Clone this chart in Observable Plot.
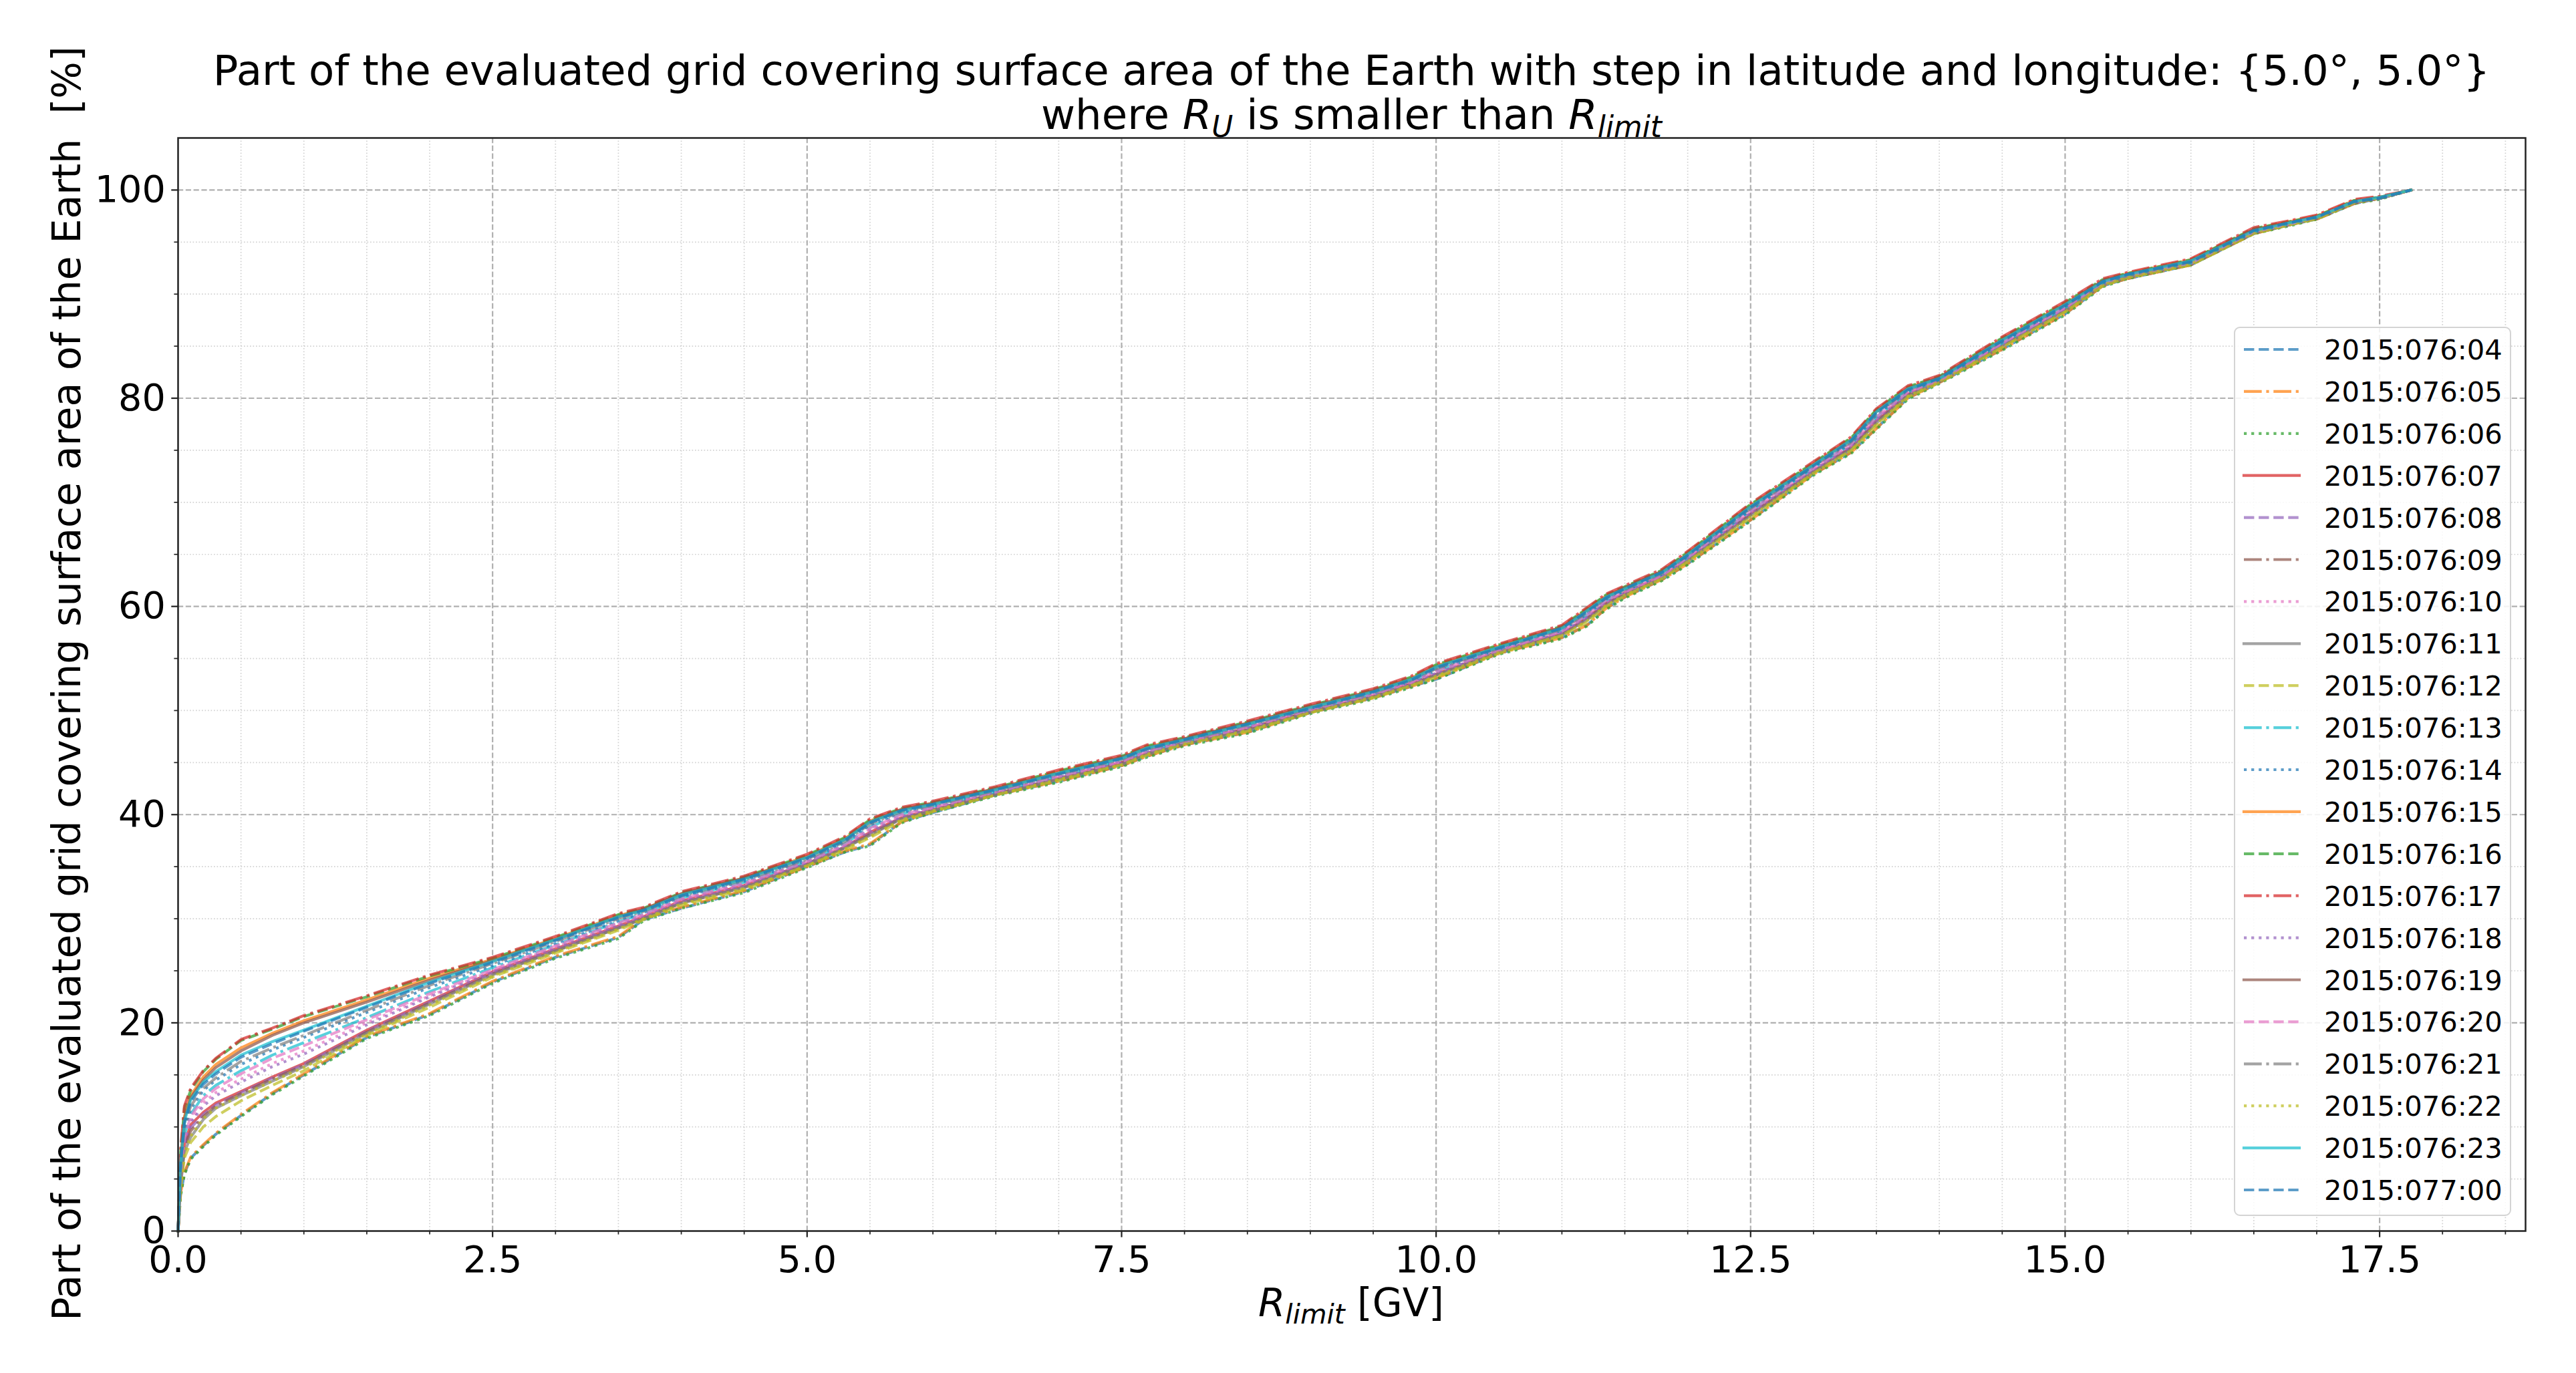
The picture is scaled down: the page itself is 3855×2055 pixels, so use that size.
<!DOCTYPE html>
<html>
<head>
<meta charset="utf-8">
<script src="https://cdn.jsdelivr.net/npm/d3@7"></script>
<script src="https://cdn.jsdelivr.net/npm/@observablehq/plot@0.6"></script>
<style>
html, body { margin: 0; padding: 0; background: #fff; }
#wrap { position: relative; width: 3855px; height: 2055px; font-family: "DejaVu Sans", sans-serif; color: #000; overflow: hidden; }
#chart { position: absolute; left: 0; top: 0; }
#title { position: absolute; left: 266px; width: 3513px; top: 73px; text-align: center; font-size: 62.5px; line-height: 66px; white-space: nowrap; }
#ylabel { position: absolute; left: 100px; top: 1023px; transform: translate(-50%, -50%) rotate(-90deg); font-size: 58.5px; white-space: nowrap; }
#xlabel { position: absolute; left: 2022px; top: 1950px; transform: translate(-50%, -50%); font-size: 58px; white-space: nowrap; }
.m { font-style: italic; }
sub { font-size: 0.7em; vertical-align: -0.28em; line-height: 0; }
#legend { position: absolute; left: 3343px; top: 489px; width: 415px; height: 1331px; box-sizing: border-box; border: 2.5px solid #d4d4d4; border-radius: 9px; background: rgba(255,255,255,0.85); }
#legend svg { position: absolute; left: -2.5px; top: -2.5px; }
</style>
</head>
<body>
<div id="wrap">
  <div id="chart"></div>
  <div id="title">Part of the evaluated grid covering surface area of the Earth with step in latitude and longitude: {5.0°, 5.0°}<br>where <span class="m">R</span><sub class="m">U</sub> is smaller than <span class="m">R</span><sub class="m">limit</sub></div>
  <div id="ylabel">Part of the evaluated grid covering surface area of the Earth&nbsp;&nbsp;[%]</div>
  <div id="xlabel"><span class="m">R</span><sub class="m">limit</sub> [GV]</div>
  <div id="legend"></div>
</div>
<script>
// ---------- data ----------
const rlimit = [0, 0.02, 0.05, 0.1, 0.2, 0.3, 0.5, 0.75, 1, 1.5, 2, 2.5, 3, 3.5, 3.7, 4, 4.5, 5, 5.3, 5.5, 5.75, 6, 6.5, 7, 7.5, 7.7, 8, 8.5, 9, 9.5, 9.8, 10, 10.5, 11, 11.2, 11.35, 11.5, 11.8, 12, 12.5, 13, 13.3, 13.5, 13.75, 14, 14.5, 15, 15.3, 15.5, 16, 16.5, 16.8, 17, 17.3, 17.5, 17.75];

const labels = ["2015:076:04","2015:076:05","2015:076:06","2015:076:07","2015:076:08","2015:076:09","2015:076:10","2015:076:11","2015:076:12","2015:076:13","2015:076:14","2015:076:15","2015:076:16","2015:076:17","2015:076:18","2015:076:19","2015:076:20","2015:076:21","2015:076:22","2015:076:23","2015:077:00"];

const s04 = [0, 3.5, 5.5, 7.0, 8.2, 9.3, 11.1, 13.2, 15.0, 18.6, 20.8, 23.9, 26.3, 28.2, 29.9, 31.0, 32.6, 35.0, 36.4, 37.1, 39.3, 40.2, 41.9, 43.2, 44.7, 45.6, 46.7, 47.9, 49.8, 51.2, 52.3, 53.0, 55.5, 57.0, 58.2, 59.8, 60.9, 62.6, 64.1, 68.3, 72.7, 74.8, 77.1, 80.0, 81.5, 84.7, 88.1, 90.8, 91.5, 92.8, 95.8, 96.7, 97.2, 98.7, 99.2, 100];
const s05 = [0, 3.6, 5.6, 7.1, 8.3, 9.4, 11.2, 13.3, 15.1, 18.7, 20.9, 24.0, 26.4, 28.3, 30.0, 31.1, 32.7, 35.0, 36.5, 37.2, 39.3, 40.3, 41.9, 43.2, 44.7, 45.6, 46.7, 47.9, 49.8, 51.2, 52.3, 53.1, 55.5, 57.0, 58.2, 59.8, 60.9, 62.6, 64.1, 68.3, 72.7, 74.8, 77.1, 80.0, 81.5, 84.7, 88.1, 90.8, 91.5, 92.8, 95.8, 96.7, 97.2, 98.7, 99.2, 100];
const s06 = [0, 3.4, 5.4, 6.9, 8.1, 9.2, 11.0, 13.1, 14.9, 18.5, 20.7, 23.8, 26.2, 28.1, 29.8, 31.0, 32.5, 34.9, 36.4, 37.0, 39.2, 40.2, 41.8, 43.1, 44.6, 45.5, 46.6, 47.8, 49.7, 51.1, 52.2, 53.0, 55.4, 56.9, 58.1, 59.7, 60.8, 62.5, 64.0, 68.2, 72.6, 74.7, 77.0, 79.9, 81.4, 84.6, 88.0, 90.7, 91.5, 92.8, 95.8, 96.6, 97.2, 98.7, 99.1, 100];
const s07 = [0, 4.8, 8.3, 10.2, 11.4, 12.3, 13.4, 14.8, 16.1, 19.3, 22.1, 24.9, 27.1, 29.3, 30.2, 31.7, 33.2, 35.3, 36.9, 38.3, 39.7, 40.5, 42.0, 43.5, 45.0, 45.9, 46.9, 48.3, 49.9, 51.4, 52.6, 53.5, 55.7, 57.4, 58.9, 60.3, 61.3, 62.9, 64.5, 68.9, 73.0, 75.3, 77.9, 80.4, 81.7, 85.1, 88.5, 91.0, 91.7, 92.9, 95.9, 96.8, 97.3, 98.8, 99.2, 100];
const s08 = [0, 4.6, 8.1, 9.9, 11.2, 12.1, 13.3, 14.7, 16.0, 19.2, 22.0, 24.8, 27.0, 29.2, 30.1, 31.6, 33.1, 35.3, 36.9, 38.2, 39.7, 40.5, 42.0, 43.5, 44.9, 45.9, 46.9, 48.2, 49.9, 51.4, 52.5, 53.5, 55.7, 57.4, 58.9, 60.3, 61.2, 62.8, 64.5, 68.9, 73.0, 75.3, 77.8, 80.3, 81.6, 85.1, 88.5, 90.9, 91.7, 92.9, 95.9, 96.8, 97.3, 98.8, 99.2, 100];
const s09 = [0, 4.5, 8.0, 9.6, 11.0, 12.0, 13.2, 14.6, 15.9, 19.1, 21.9, 24.7, 26.9, 29.1, 30.0, 31.5, 33.0, 35.2, 36.8, 38.1, 39.6, 40.4, 42.0, 43.4, 44.9, 45.8, 46.8, 48.2, 49.9, 51.3, 52.5, 53.4, 55.6, 57.3, 58.8, 60.2, 61.2, 62.8, 64.4, 68.8, 72.9, 75.2, 77.7, 80.3, 81.6, 85.0, 88.4, 90.9, 91.6, 92.9, 95.9, 96.7, 97.3, 98.8, 99.2, 100];
const s10 = [0, 5.0, 8.7, 10.6, 12.3, 13.3, 14.6, 16.1, 17.3, 20.0, 22.6, 25.0, 27.3, 29.5, 30.3, 31.8, 33.3, 35.4, 37.0, 38.6, 39.9, 40.6, 42.1, 43.6, 45.1, 46.0, 47.0, 48.4, 50.0, 51.5, 52.7, 53.7, 55.8, 57.6, 59.1, 60.5, 61.4, 63.0, 64.6, 69.1, 73.2, 75.5, 78.1, 80.5, 81.7, 85.2, 88.6, 91.0, 91.7, 93.0, 96.0, 96.8, 97.4, 98.9, 99.2, 100];
const s11 = [0, 4.3, 7.6, 9.0, 10.7, 11.8, 13.0, 14.4, 15.8, 19.0, 21.8, 24.6, 26.9, 29.1, 30.0, 31.5, 33.0, 35.2, 36.8, 38.0, 39.6, 40.4, 41.9, 43.4, 44.8, 45.8, 46.8, 48.1, 49.8, 51.3, 52.4, 53.4, 55.6, 57.3, 58.7, 60.1, 61.1, 62.7, 64.4, 68.7, 72.9, 75.1, 77.6, 80.2, 81.6, 85.0, 88.4, 90.9, 91.6, 92.9, 95.9, 96.7, 97.3, 98.8, 99.2, 100];
const s12 = [0, 4.0, 7.0, 8.5, 10.0, 11.0, 12.5, 14.0, 15.4, 18.8, 21.5, 24.4, 26.7, 28.9, 29.9, 31.3, 32.8, 35.1, 36.6, 37.8, 39.4, 40.3, 41.9, 43.3, 44.8, 45.7, 46.8, 48.0, 49.8, 51.2, 52.4, 53.2, 55.5, 57.2, 58.5, 60.0, 61.0, 62.7, 64.3, 68.5, 72.8, 75.0, 77.4, 80.1, 81.5, 84.9, 88.3, 90.8, 91.6, 92.8, 95.8, 96.7, 97.2, 98.8, 99.2, 100];
const s13 = [0, 5.5, 9.2, 11.2, 13.0, 14.0, 15.4, 16.9, 18.1, 20.5, 23.0, 25.3, 27.5, 29.7, 30.5, 32.0, 33.5, 35.5, 37.2, 38.8, 40.1, 40.8, 42.2, 43.7, 45.2, 46.1, 47.0, 48.5, 50.1, 51.6, 52.8, 53.8, 55.9, 57.7, 59.2, 60.6, 61.5, 63.1, 64.7, 69.2, 73.3, 75.6, 78.2, 80.6, 81.8, 85.3, 88.7, 91.1, 91.8, 93.0, 96.0, 96.8, 97.4, 98.9, 99.2, 100];
const s14 = [0, 5.8, 9.6, 11.7, 13.5, 14.5, 16.0, 17.4, 18.6, 21.0, 23.4, 25.5, 27.6, 29.8, 30.6, 32.1, 33.6, 35.6, 37.3, 39.0, 40.2, 40.8, 42.3, 43.8, 45.2, 46.2, 47.1, 48.5, 50.2, 51.7, 52.8, 53.9, 55.9, 57.7, 59.3, 60.7, 61.5, 63.1, 64.8, 69.3, 73.4, 75.7, 78.4, 80.7, 81.8, 85.4, 88.8, 91.1, 91.8, 93.1, 96.0, 96.9, 97.4, 98.9, 99.2, 100];
const s15 = [0, 6.8, 11.0, 13.0, 14.8, 16.0, 17.6, 19.0, 20.2, 22.2, 24.3, 26.1, 28.1, 30.3, 30.9, 32.4, 33.9, 36.0, 37.7, 39.4, 40.5, 41.1, 42.5, 44.1, 45.5, 46.5, 47.3, 48.8, 50.4, 51.9, 53.1, 54.3, 56.2, 58.0, 59.7, 61.0, 61.8, 63.4, 65.1, 69.7, 73.7, 76.1, 78.8, 81.0, 82.0, 85.7, 89.1, 91.3, 92.0, 93.3, 96.2, 97.0, 97.5, 99.0, 99.3, 100];
const s16 = [0, 7.5, 11.8, 13.5, 15.3, 16.5, 18.3, 19.4, 20.6, 22.5, 24.5, 26.2, 28.2, 30.4, 31.0, 32.5, 34.0, 36.1, 37.8, 39.5, 40.6, 41.2, 42.6, 44.2, 45.6, 46.6, 47.4, 48.9, 50.5, 52.0, 53.2, 54.4, 56.3, 58.1, 59.8, 61.1, 61.9, 63.5, 65.2, 69.8, 73.8, 76.2, 78.9, 81.1, 82.1, 85.8, 89.2, 91.4, 92.0, 93.3, 96.3, 97.0, 97.5, 99.0, 99.3, 100];
const s17 = [0, 7.8, 12.0, 13.7, 15.4, 16.6, 18.4, 19.5, 20.7, 22.6, 24.6, 26.3, 28.3, 30.5, 31.1, 32.6, 34.1, 36.2, 37.9, 39.6, 40.7, 41.3, 42.7, 44.3, 45.7, 46.7, 47.5, 49.0, 50.6, 52.1, 53.3, 54.5, 56.4, 58.2, 59.9, 61.2, 62.0, 63.6, 65.3, 69.9, 73.9, 76.3, 79.0, 81.2, 82.2, 85.9, 89.3, 91.5, 92.1, 93.4, 96.4, 97.1, 97.6, 99.1, 99.4, 100];
const s18 = [0, 4.9, 8.5, 10.4, 12.0, 13.0, 14.3, 15.8, 17.0, 19.8, 22.5, 24.9, 27.2, 29.4, 30.3, 31.8, 33.3, 35.4, 37.0, 38.5, 39.8, 40.6, 42.1, 43.6, 45.0, 46.0, 46.9, 48.3, 50.0, 51.5, 52.6, 53.6, 55.7, 57.5, 59.0, 60.4, 61.3, 62.9, 64.6, 69.0, 73.1, 75.4, 78.0, 80.5, 81.7, 85.2, 88.6, 91.0, 91.7, 93.0, 95.9, 96.8, 97.3, 98.8, 99.2, 100];
const s19 = [0, 6.6, 10.8, 12.8, 14.5, 15.7, 17.3, 18.8, 20.0, 22.0, 24.1, 26.0, 28.0, 30.2, 30.9, 32.4, 33.9, 35.9, 37.6, 39.3, 40.5, 41.1, 42.5, 44.0, 45.5, 46.4, 47.3, 48.8, 50.4, 51.9, 53.0, 54.2, 56.1, 58.0, 59.6, 60.9, 61.8, 63.4, 65.0, 69.6, 73.6, 76.0, 78.7, 80.9, 82.0, 85.6, 89.0, 91.3, 91.9, 93.2, 96.2, 96.9, 97.4, 98.9, 99.3, 100];
const s20 = [0, 5.3, 9.0, 11.0, 12.7, 13.7, 15.1, 16.6, 17.8, 20.3, 22.8, 25.1, 27.4, 29.6, 30.4, 31.9, 33.4, 35.5, 37.1, 38.7, 40.0, 40.7, 42.2, 43.7, 45.1, 46.1, 47.0, 48.4, 50.1, 51.6, 52.7, 53.8, 55.8, 57.6, 59.2, 60.6, 61.4, 63.0, 64.7, 69.2, 73.3, 75.6, 78.2, 80.6, 81.7, 85.3, 88.7, 91.1, 91.8, 93.0, 96.0, 96.8, 97.4, 98.9, 99.2, 100];
const s21 = [0, 6.0, 10.0, 12.0, 13.7, 14.7, 16.3, 17.6, 18.8, 21.2, 23.6, 25.7, 27.8, 30.0, 30.7, 32.2, 33.7, 35.7, 37.4, 39.1, 40.3, 40.9, 42.3, 43.9, 45.3, 46.3, 47.1, 48.6, 50.2, 51.7, 52.9, 54.0, 56.0, 57.8, 59.4, 60.8, 61.6, 63.2, 64.9, 69.4, 73.5, 75.8, 78.5, 80.8, 81.9, 85.5, 88.9, 91.2, 91.8, 93.1, 96.1, 96.9, 97.4, 98.9, 99.2, 100];
const s22 = [0, 4.2, 7.5, 9.1, 10.8, 11.8, 13.0, 14.4, 15.7, 18.9, 21.7, 24.5, 26.8, 29.0, 30.0, 31.4, 32.9, 35.1, 36.7, 37.9, 39.5, 40.4, 41.9, 43.4, 44.8, 45.8, 46.8, 48.1, 49.8, 51.3, 52.4, 53.3, 55.6, 57.2, 58.6, 60.1, 61.1, 62.7, 64.3, 68.6, 72.8, 75.0, 77.5, 80.2, 81.6, 84.9, 88.3, 90.9, 91.6, 92.9, 95.9, 96.7, 97.3, 98.8, 99.2, 100];
const s23 = [0, 6.5, 10.5, 12.6, 14.3, 15.3, 16.9, 18.2, 19.3, 21.6, 23.9, 25.9, 28.0, 30.2, 30.8, 32.3, 33.8, 35.9, 37.6, 39.3, 40.4, 41.0, 42.4, 44.0, 45.4, 46.4, 47.2, 48.7, 50.3, 51.8, 53.0, 54.2, 56.1, 57.9, 59.6, 60.9, 61.7, 63.3, 65.0, 69.6, 73.6, 76.0, 78.7, 80.9, 81.9, 85.6, 89.0, 91.2, 91.9, 93.2, 96.1, 96.9, 97.4, 98.9, 99.3, 100];
const s00 = [0, 6.3, 10.3, 12.4, 14.1, 15.1, 16.7, 18.0, 19.2, 21.5, 23.8, 25.8, 27.9, 30.1, 30.8, 32.2, 33.8, 35.8, 37.5, 39.2, 40.4, 41.0, 42.4, 43.9, 45.4, 46.3, 47.2, 48.7, 50.2, 51.8, 52.9, 54.1, 56.0, 57.9, 59.5, 60.8, 61.7, 63.3, 64.9, 69.5, 73.5, 75.9, 78.6, 80.8, 81.9, 85.5, 88.9, 91.2, 91.9, 93.1, 96.1, 96.9, 97.4, 98.9, 99.2, 100];

const seriesValues = [s04, s05, s06, s07, s08, s09, s10, s11, s12, s13, s14, s15, s16, s17, s18, s19, s20, s21, s22, s23, s00];

const xMajorTicks = [0, 2.5, 5, 7.5, 10, 12.5, 15, 17.5];
const xTickLabels = ["0.0", "2.5", "5.0", "7.5", "10.0", "12.5", "15.0", "17.5"];
const yMajorTicks = [0, 20, 40, 60, 80, 100];
const yTickLabels = ["0", "20", "40", "60", "80", "100"];
const xMinorTicks = [0.5, 1, 1.5, 2, 3, 3.5, 4, 4.5, 5.5, 6, 6.5, 7, 8, 8.5, 9, 9.5, 10.5, 11, 11.5, 12, 13, 13.5, 14, 14.5, 15.5, 16, 16.5, 17, 18, 18.5];
const yMinorTicks = [5, 10, 15, 25, 30, 35, 45, 50, 55, 65, 70, 75, 85, 90, 95];

// ---------- styles ----------
const tab10 = ["#1f77b4", "#ff7f0e", "#2ca02c", "#d62728", "#9467bd", "#8c564b", "#e377c2", "#7f7f7f", "#bcbd22", "#17becf"];
const dashStyles = ["15.4,6.7", "26.7,6.7,4.2,6.7", "4.2,6.9", null];

// ---------- build ----------
const rows = [];
seriesValues.forEach((vals, k) => vals.forEach((v, i) => rows.push({series: labels[k], r: rlimit[i], p: v})));

const W = 3855, H = 2055;
const gridMajor = {stroke: "#b0b0b0", strokeWidth: 2.2, strokeDasharray: "8.2,3.6"};
const gridMinor = {stroke: "#c8c8c8", strokeOpacity: 0.8, strokeWidth: 1.7, strokeDasharray: "1.7,2.8"};

const lineMarks = labels.map((lab, k) => {
  const dash = dashStyles[k % 4];
  return Plot.line(rows.filter(d => d.series === lab), {
    x: "r", y: "p",
    stroke: tab10[k % 10], strokeOpacity: 0.72, strokeWidth: 4.17,
    strokeDasharray: dash || undefined,
    strokeLinecap: dash ? "butt" : "square",
    strokeLinejoin: "round"
  });
});

const chart = Plot.plot({
  width: W, height: H,
  marginLeft: 266, marginRight: 76, marginTop: 206, marginBottom: 213,
  style: {fontFamily: "DejaVu Sans, sans-serif", background: "transparent", color: "#000"},
  x: {domain: [0, 18.66]},
  y: {domain: [0, 105]},
  marks: [
    Plot.ruleX(xMinorTicks, gridMinor),
    Plot.ruleY(yMinorTicks, gridMinor),
    Plot.ruleX(xMajorTicks.slice(1), gridMajor),
    Plot.ruleY(yMajorTicks.slice(1), gridMajor),
    ...lineMarks,
    Plot.axisX({ticks: xMinorTicks, tickSize: 5.6, strokeWidth: 1.7, stroke: "#222", tickFormat: () => "", label: null}),
    Plot.axisY({ticks: yMinorTicks, tickSize: 5.6, strokeWidth: 1.7, stroke: "#222", tickFormat: () => "", label: null}),
    Plot.axisX({ticks: xMajorTicks, tickSize: 9.7, tickPadding: 12, strokeWidth: 2.2, stroke: "#222", fill: "#000", fontSize: 55.6,
      tickFormat: d => xTickLabels[xMajorTicks.indexOf(d)], label: null}),
    Plot.axisY({ticks: yMajorTicks, tickSize: 9.7, tickPadding: 9, strokeWidth: 2.2, stroke: "#222", fill: "#000", fontSize: 55.6,
      tickFormat: d => yTickLabels[yMajorTicks.indexOf(d)], label: null}),
    Plot.frame({stroke: "#222", strokeWidth: 2.5})
  ]
});
document.getElementById("chart").appendChild(chart);

// ---------- legend ----------
const lg = d3.select("#legend").append("svg").attr("width", 415).attr("height", 1331);
labels.forEach((lab, k) => {
  const cy = 34 + k * 62.9;
  const dash = dashStyles[k % 4];
  lg.append("line")
    .attr("x1", 15).attr("x2", 98).attr("y1", cy).attr("y2", cy)
    .attr("stroke", tab10[k % 10]).attr("stroke-opacity", 0.72).attr("stroke-width", 4.17)
    .attr("stroke-dasharray", dash)
    .attr("stroke-linecap", dash ? "butt" : "square");
  lg.append("text")
    .attr("x", 135).attr("y", cy).attr("dy", "0.36em")
    .attr("font-family", "DejaVu Sans, sans-serif").attr("font-size", 41.7).attr("fill", "#000")
    .text(lab);
});
</script>
</body>
</html>
